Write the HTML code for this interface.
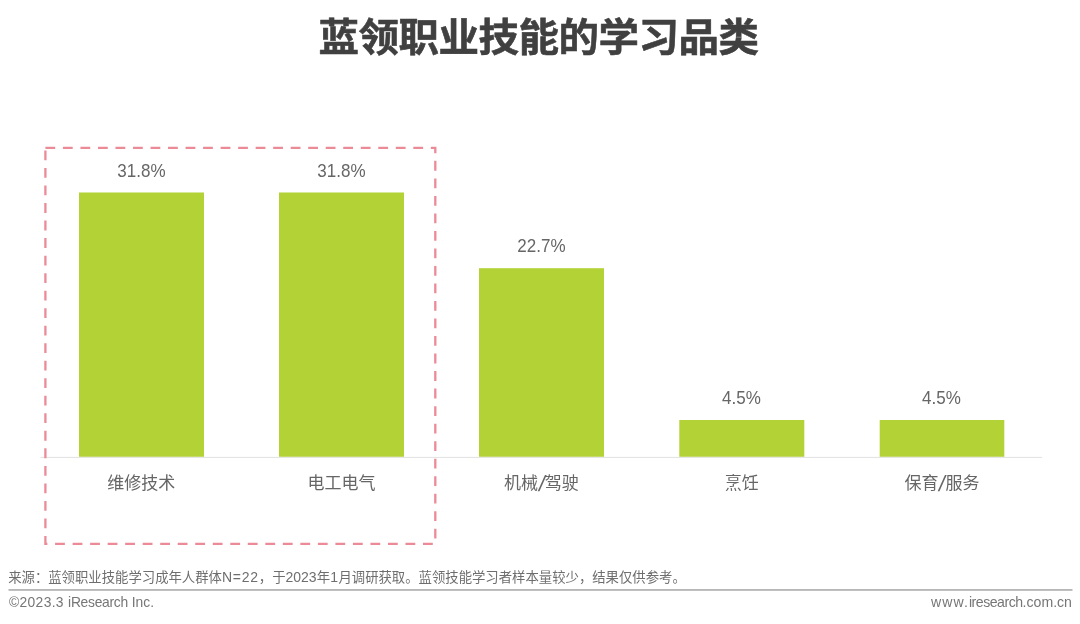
<!DOCTYPE html>
<html lang="zh-CN">
<head>
<meta charset="utf-8">
<title>蓝领职业技能的学习品类</title>
<style>
*{margin:0;padding:0;box-sizing:border-box}
html,body{width:1080px;height:624px;background:#fff;overflow:hidden}
body{position:relative;font-family:"Liberation Sans","Noto Sans CJK SC",sans-serif;color:#666}
h1{position:absolute;left:0;top:10px;width:1076px;text-align:center;font-weight:700;font-size:40.5px;line-height:56px;color:#404040;letter-spacing:-0.5px;-webkit-text-stroke:0.6px #404040;transform:translate(0.5px,-0.2px) scale(1,0.953);transform-origin:50% 50%;white-space:nowrap}
svg.gfx{position:absolute;left:0;top:0;width:1080px;height:624px}
.val{position:absolute;width:160px;margin-left:-80px;text-align:center;font-size:18.5px;line-height:22px;color:#666;transform:translate(-0.6px,0.2px) scaleX(0.92);white-space:nowrap}
.cat{position:absolute;width:200px;margin-left:-100px;text-align:center;font-size:17px;line-height:24px;color:#666;white-space:nowrap}
.cat i{font-style:normal;font-size:22px;margin:0 -0.9px 0 1.7px;line-height:1;vertical-align:-2px;display:inline-block;height:10px;overflow:visible;transform:skewX(-10deg)}
.src{position:absolute;left:8.2px;top:568px;font-size:13.36px;line-height:20px;color:#6e6e6e;white-space:nowrap}
.src b{font-weight:400;font-size:14px;line-height:1}
.src b.n{letter-spacing:0.75px}
.src b.o{margin:0 0.3px}
.foot-l{position:absolute;left:9px;top:592px;font-size:14.5px;line-height:20px;color:#767676;white-space:nowrap;transform:translateY(-0.5px) scaleX(0.955);transform-origin:0 50%}
.foot-r{position:absolute;right:8px;top:592px;font-size:14.5px;line-height:20px;color:#767676;white-space:nowrap;transform:translateY(-0.5px) scaleX(0.973);transform-origin:100% 50%}
</style>
</head>
<body>
<h1>蓝领职业技能的学习品类</h1>

<svg class="gfx" viewBox="0 0 1080 624">
  <g fill="#b2d235">
    <rect x="79" y="192.5" width="125" height="264.3"/>
    <rect x="279" y="192.5" width="125" height="264.3"/>
    <rect x="479" y="268.2" width="125" height="188.6"/>
    <rect x="679.3" y="420" width="125" height="36.8"/>
    <rect x="879.7" y="420" width="124.6" height="36.8"/>
  </g>
  <rect x="40.5" y="456.9" width="1001.5" height="1" fill="#e2e2e2"/>
  <path d="M45.4 147.8 H435.3 V543.8 H45.4 Z" fill="none" stroke="#eb8b97" stroke-width="2.3" stroke-dasharray="9.8 7.72"/>
  <rect x="8.5" y="589.2" width="1064" height="1.5" fill="#a6a6a6"/>
</svg>

<div class="val" style="left:141.5px;top:160px">31.8%</div>
<div class="val" style="left:341.5px;top:160px">31.8%</div>
<div class="val" style="left:541.5px;top:235px">22.7%</div>
<div class="val" style="left:741.8px;top:387px">4.5%</div>
<div class="val" style="left:942px;top:387px">4.5%</div>

<div class="cat" style="left:141.2px;top:472px">维修技术</div>
<div class="cat" style="left:341.5px;top:472px">电工电气</div>
<div class="cat" style="left:541.4px;top:472px">机械<i>/</i>驾驶</div>
<div class="cat" style="left:741.8px;top:472px">烹饪</div>
<div class="cat" style="left:942px;top:472px">保育<i>/</i>服务</div>

<div class="src">来源：蓝领职业技能学习成年人群体<b class="n">N=22</b>，于<b>2023</b>年<b class="o">1</b>月调研获取。蓝领技能学习者样本量较少，结果仅供参考。</div>
<div class="foot-l"><span style="letter-spacing:0.35px">©2023.3 </span><span style="letter-spacing:-0.3px">iResearch</span> Inc.</div>
<div class="foot-r"><span style="letter-spacing:1.1px">www.</span><span style="letter-spacing:-0.5px">iresearch</span>.com.cn</div>
</body>
</html>
